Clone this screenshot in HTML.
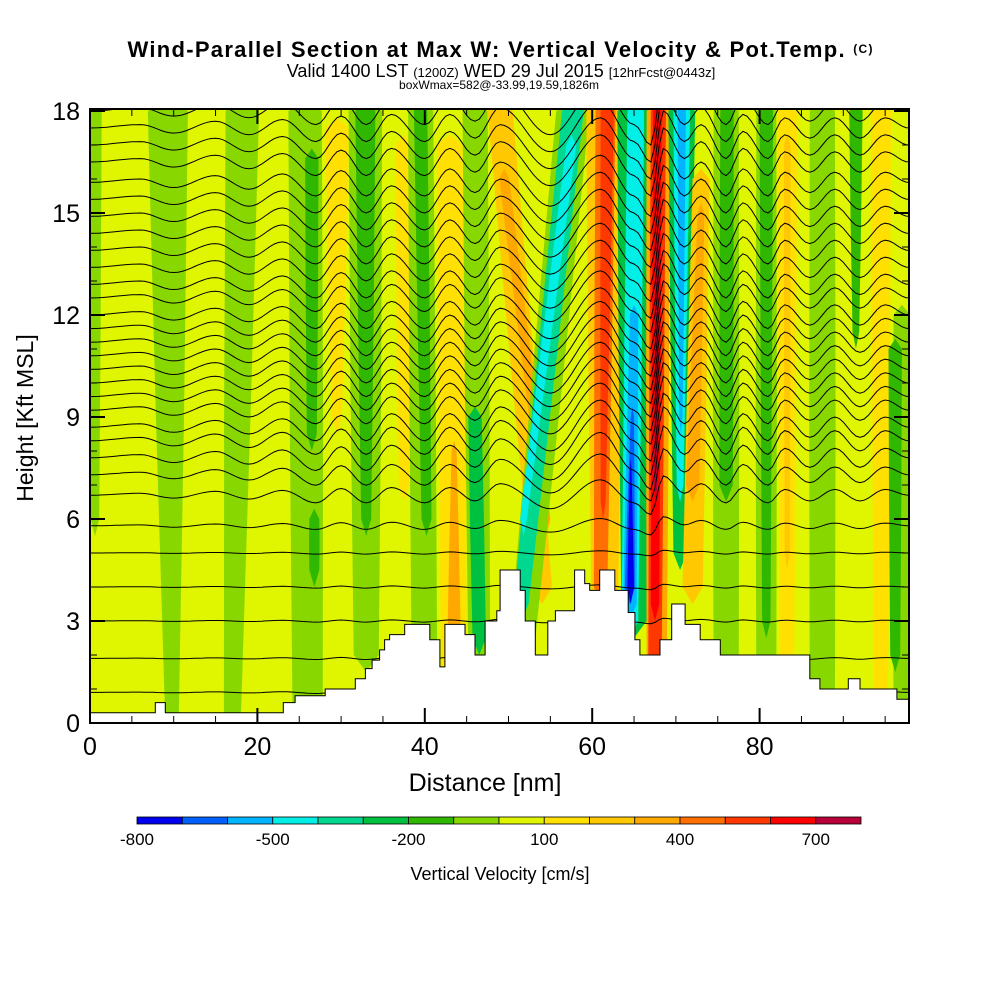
<!DOCTYPE html>
<html><head><meta charset="utf-8"><style>
body{margin:0;background:#fff;width:1000px;height:1000px;overflow:hidden;font-family:"Liberation Sans",sans-serif}
svg{display:block}
</style></head><body>
<svg id="chart" width="1000" height="1000" xmlns="http://www.w3.org/2000/svg">
<text x="500" y="57" text-anchor="middle" font-size="22" font-weight="bold" textLength="745">Wind-Parallel Section at Max W: Vertical Velocity &amp; Pot.Temp. <tspan font-size="12" dy="-4">(C)</tspan></text>
<text x="501" y="77" text-anchor="middle" font-size="18">Valid 1400 LST <tspan font-size="13">(1200Z)</tspan> WED 29 Jul 2015 <tspan font-size="13">[12hrFcst@0443z]</tspan></text>
<text x="499" y="89" text-anchor="middle" font-size="12">boxWmax=582@-33.99,19.59,1826m</text>
<defs><clipPath id="pc"><rect x="90" y="109" width="819" height="614"/></clipPath></defs>
<g id="field" clip-path="url(#pc)"></g>
<g id="axes"></g>
<g id="cbar"></g>
</svg>
<script>
const levels=[-800,-700,-600,-500,-400,-300,-200,-100,0,100,200,300,400,500,600,700];
const colors=["#0000f0","#0060ff","#00b4ff","#00f0e8","#00d890","#00c040","#30b800","#88d800","#e0f500","#ffe000","#ffc800","#ffa800","#ff7000","#ff3800","#ff0000","#b8003a"];
// stripes: value, xTop, xBot, halfWidthTop, halfWidthBot, hTop, hBot
const stripeVal=[-100,-100,-100,-100,-200,-200,100,-100,-200,100,-100,-200,100,300,-100,-300,200,300,-100,-400,-500,200,400,500,-300,-500,-600,-700,-800,300,500,600,700,-300,-500,-600,200,300,-100,-200,-100,-200,100,200,-100,-200,100,-100,-200];
const stripeXT=[0.6,9.3,18.2,25.7,26.5,26.8,29.5,32.9,32.9,37.5,39.5,39.5,43.0,43.5,46,46,49,49.5,57.7,57.7,57.5,61.5,61.6,61.8,65,65.2,65,64.8,64.6,67.9,67.9,67.8,67.8,70.7,70.7,70.7,73,73,76,76.1,80.8,80.8,83.3,83.3,87.5,91.5,94.5,97,96.2];
const stripeXB=[0.6,9.8,17.0,26.0,26.5,26.8,29.5,33.0,33.0,37.5,40.0,40.2,43.5,43.5,46.5,46.5,54,54.5,51.5,51.5,51.8,61.5,61.0,61.3,65,64.5,64.5,64.5,64.6,67.7,67.5,67.5,67.6,70.5,70.5,70.6,72,72,76,76,80.8,80.8,83.3,83.3,87.5,91.5,94.5,97,96.2];
const stripeWT=[0.8,2.4,2.0,2.0,0.8,0.6,1.4,2.0,1.2,1.0,1.5,0.8,1.5,0.3,1.5,0.8,1.5,0.6,2.0,1.3,0.6,2.2,1.2,0.8,2.0,1.0,0.5,0.2,0.1,1.4,0.9,0.5,0.15,1.6,1.0,0.5,1.0,0.4,1.5,0.8,1.2,0.8,1.2,0.4,1.5,0.8,1.2,1.0,0.8];
const stripeWB=[0.5,0.8,1.0,1.8,0.6,0.6,0.6,1.5,0.6,0.6,1.5,0.6,1.5,0.8,1.3,0.8,1.2,0.5,1.5,0.9,0.4,1.5,0.8,0.3,1.5,1.0,0.8,0.6,0.4,1.2,0.8,0.5,0.2,0.8,0.4,0.2,1.2,0.8,1.5,0.8,1.2,0.5,0.8,0.3,1.5,0.4,0.8,1.0,0.6];
const stripeHT=[18,18,18,18,16.6,6,17.5,18,18,17,18,18,17,8,18,9,18,16,18,18,17,18,18,18,18,18,12,9,7.5,18,18,18,14,18,18,18,16,15,18,18,18,18,18,17,18,18,18,12,11];
const stripeHB=[6,0,0,0,8.5,4.5,9,2,6,7,0,6,1,2.5,2,2.5,4,6,2,3.5,6,2,4,6.5,3,3,3.5,4,4,1.5,2,3.5,7,5,7,9,4,7,1,7,0.5,3,1,5,0,11.5,0,0,2];
// terrain steps
const terrX=[0,7.8,9.0,23.1,24.5,28.1,31.7,32.9,33.7,34.6,35.2,35.8,37.6,40.6,41.8,42.4,44.8,46.0,47.2,48.6,49.0,51.4,52.0,53.2,54.7,55.6,57.9,59.1,59.7,60.9,62.7,64.3,65.1,65.7,68.1,69.5,71.1,72.9,75.3,86.0,87.2,90.6,92.0,96.4];
const terrH=[0.3,0.6,0.3,0.6,0.8,1.0,1.3,1.6,1.85,2.15,2.45,2.6,2.9,2.45,1.65,2.9,2.6,2.0,3.0,3.3,4.5,3.9,3.0,2.0,3.0,3.3,4.5,4.1,3.9,4.5,3.9,3.25,2.45,2.0,2.45,3.5,2.9,2.45,2.0,1.3,1.0,1.3,1.0,0.7];
// isentrope base heights and displacement
const thetaBase=[0.9,1.9,3.0,4.0,5.0,5.8,6.7,7.3,7.8,8.3,8.7,9.2,9.6,10.0,10.4,10.8,11.2,11.6,12.0,12.5,12.9,13.4,13.9,14.4,14.9,15.4,15.9,16.5,17.0,17.5,18.0];
const dispX=[0,6,10,15,19,23,27,30,33,36,40,43,46,49,55,61,65,67,68.5,71,73,76,78,81,83,86,89,92,95,97.8];
const dispH=[0,0.1,-0.15,0.2,-0.2,0.25,-0.4,0.35,-0.4,0.4,-0.4,0.4,-0.3,0.6,-0.7,0.8,-0.4,-1.0,1.0,0.1,0.6,-0.4,0.4,-0.4,0.3,-0.3,0.3,-0.3,0.3,0];
const xTicks=[0,20,40,60,80];
const yTicks=[0,3,6,9,12,15,18];
const cbLabels=[-800,-500,-200,100,400,700];

const NS="http://www.w3.org/2000/svg";
const X=v=>90+v*8.37, Y=h=>723-h*34;
const field=document.getElementById('field'), axes=document.getElementById('axes'), cbar=document.getElementById('cbar');
function mk(tag,at,parent){const e=document.createElementNS(NS,tag);for(const k in at)e.setAttribute(k,at[k]);parent.appendChild(e);return e;}
const colorOf=v=>colors[levels.indexOf(v)];
let bg=mk('rect',{x:90,y:109,width:819,height:614,fill:colorOf(0)},field);


stripeVal.forEach((v,i)=>{
  const xt=stripeXT[i],xb=stripeXB[i],wt=stripeWT[i],wb=stripeWB[i],ht=stripeHT[i],hb=stripeHB[i];
  const hm=(ht+hb)/2,xm=(xt+xb)/2,wm=(wt+wb)/2*1.05;
  const pts=[[xt,ht+0.3],[xt+wt,ht],[xm+wm,hm],[xb+wb,hb],[xb,hb-0.5],[xb-wb,hb],[xm-wm,hm],[xt-wt,ht]].map(p=>X(p[0]).toFixed(1)+','+Y(p[1]).toFixed(1)).join(' ');
  const p=mk('polygon',{points:pts,fill:colorOf(v)},field);
  
  
});
function disp(x){for(let i=0;i<dispX.length-1;i++){if(x>=dispX[i]&&x<=dispX[i+1]){const t=(x-dispX[i])/(dispX[i+1]-dispX[i]);const s=(1-Math.cos(Math.PI*t))/2;return dispH[i]+(dispH[i+1]-dispH[i])*s;}}return 0;}
thetaBase.forEach(h=>{
  const f=Math.max(0.08,Math.min(1,(h-5)/3));
  let d='';
  for(let x=0;x<=98;x+=0.5){const y=h+disp(x)*f;d+=(x?'L':'M')+X(x).toFixed(1)+','+Y(y).toFixed(1);}
  const p=mk('path',{d:d,fill:'none',stroke:'#000','stroke-width':1},field);
  
  
});
let td='M'+X(0)+','+Y(0);
terrX.forEach((x,i)=>{const xe=i<terrX.length-1?terrX[i+1]:97.8;td+='L'+X(x).toFixed(1)+','+Y(terrH[i]).toFixed(1)+'L'+X(xe).toFixed(1)+','+Y(terrH[i]).toFixed(1);});
td+='L'+X(97.8)+','+Y(0)+'Z';
const terr=mk('path',{d:td,fill:'#fff',stroke:'#000','stroke-width':1},field);


const fr=mk('rect',{x:90,y:109,width:819,height:614,fill:'none',stroke:'#000','stroke-width':2},axes);


for(let h=0;h<=18;h++){const maj=h%3===0;const L=maj?15:7;
  mk('line',{x1:90,x2:90+L,y1:Y(h),y2:Y(h),stroke:'#000','stroke-width':maj?2:1},axes);
  mk('line',{x1:909,x2:909-L,y1:Y(h),y2:Y(h),stroke:'#000','stroke-width':maj?2:1},axes);}
for(let x=0;x<=95;x+=5){const maj=x%20===0;const L=maj?15:7;
  mk('line',{x1:X(x),x2:X(x),y1:723,y2:723-L,stroke:'#000','stroke-width':maj?2:1},axes);
  mk('line',{x1:X(x),x2:X(x),y1:109,y2:109+L,stroke:'#000','stroke-width':maj?2:1},axes);}
yTicks.forEach(h=>{const t=mk('text',{x:80,y:Y(h)+9,'text-anchor':'end','font-size':25},axes);t.textContent=h;
  
  });
xTicks.forEach(x=>{const t=mk('text',{x:X(x),y:755,'text-anchor':'middle','font-size':25},axes);t.textContent=x;
  
  });
const xt=mk('text',{x:485,y:791,'text-anchor':'middle','font-size':25},axes);xt.textContent='Distance [nm]';


const yt=mk('text',{x:33,y:418,'text-anchor':'middle','font-size':23,transform:'rotate(-90 33 418)'},axes);yt.textContent='Height [Kft MSL]';


const cw=724/levels.length;
levels.forEach((v,i)=>{const r=mk('rect',{x:137+i*cw,y:817,width:cw,height:7,fill:colors[i],stroke:'#000','stroke-width':0.8},cbar);
  
  });
cbLabels.forEach(v=>{const t=mk('text',{x:137+(v+800)/100*cw,y:845,'text-anchor':'middle','font-size':17},cbar);t.textContent=v;
  
  });
const ct=mk('text',{x:500,y:880,'text-anchor':'middle','font-size':18},cbar);ct.textContent='Vertical Velocity [cm/s]';


</script>
</body></html>
